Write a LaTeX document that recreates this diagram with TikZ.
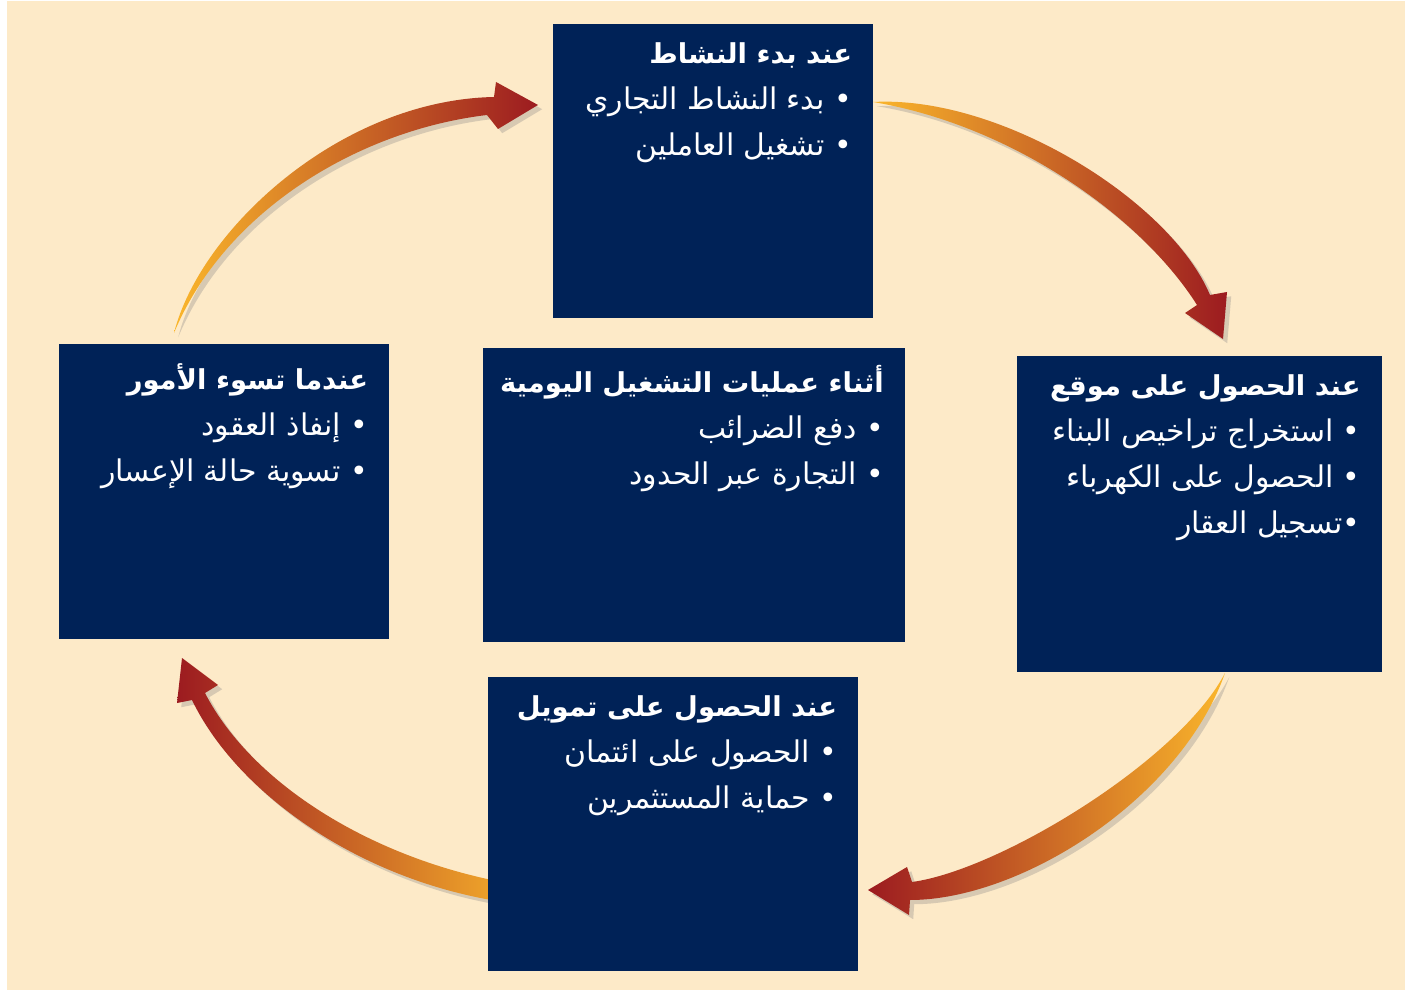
\documentclass[tikz,border=0pt]{standalone}
\usepackage{fontspec}
\newfontfamily\arabicfont[Script=Arabic]{DejaVu Sans}
\TeXXeTstate=1
\usetikzlibrary{positioning,shadows}
\definecolor{navy}{RGB}{0,34,87}
\definecolor{cream}{RGB}{253,234,200}
\definecolor{amber}{RGB}{250,182,43}
\definecolor{rust}{RGB}{214,120,38}
\definecolor{brick}{RGB}{156,27,32}
\newcommand{\arline}[1]{\beginR#1\endR}
\newcommand{\artitle}[1]{\beginR{\bfseries\fontsize{7.8}{13.1}\selectfont #1}\endR}
\tikzset{x=0.1mm, y=-0.1mm,
  stage/.style={fill=navy, inner sep=0pt},
  stagetext/.style={anchor=north east, inner sep=0pt, align=right, text=white,
    font=\arabicfont\fontsize{8.5}{13.1}\selectfont},
  curl/.style={drop shadow={opacity=0.3, shadow xshift=1.2pt, shadow yshift=-1.2pt}}}

\begin{document}
\begin{tikzpicture}
\useasboundingbox (0,0) rectangle (1405,990);
\fill[white] (0,0) rectangle (1405,990);
\fill[cream] (7,1) rectangle (1405,990);

\path[curl, left color=amber, middle color=rust, right color=brick] (174,333) .. controls (200,230) and (340,100) .. (494,97)
  -- (496,82) -- (538,105) -- (498,129) -- (487,115) .. controls (360,130) and (225,210) .. cycle;
\path[curl, left color=amber, right color=brick] (873,102) .. controls (1000,95) and (1170,200) .. (1210,295)
  -- (1227,292) -- (1223,339) -- (1185,313) -- (1197,305) .. controls (1140,215) and (1010,125) .. cycle;
\path[curl, left color=brick, right color=amber] (1225,673) .. controls (1180,800) and (1020,900) .. (910,900)
  -- (909,915) -- (868,890) -- (907,867) -- (912,882) .. controls (1000,870) and (1180,760) .. cycle;
\path[curl, left color=brick, right color=amber] (540,906) .. controls (380,895) and (240,800) .. (192,700)
  -- (177,703) -- (182,658) -- (218,685) -- (205,693) .. controls (255,790) and (390,870) .. (540,888) -- cycle;

\node (start)   [stage, minimum width=32mm, minimum height=29.4mm]   at (713,171)  {};
\node (daily)   [stage, minimum width=42.2mm, minimum height=29.4mm] at (694,495)  {};
\node (trouble) [stage, minimum width=33mm, minimum height=29.5mm]   at (224,492)  {};
\node (site)    [stage, minimum width=36.5mm, minimum height=31.6mm] at (1199,514) {};
\node (finance) [stage, minimum width=37mm, minimum height=29.4mm]   at (673,824)  {};

\node (startText) [stagetext] at ([shift={(-21,19)}]start.north east) {
  \artitle{عند بدء النشاط}\\
  \arline{• بدء النشاط التجاري}\\
  \arline{• تشغيل العاملين}};
\node (dailyText) [stagetext] at ([shift={(-21,17)}]daily.north east) {
  \artitle{أثناء عمليات التشغيل اليومية}\\
  \arline{• دفع الضرائب}\\
  \arline{• التجارة عبر الحدود}};
\node (troubleText) [stagetext] at ([shift={(-21,19)}]trouble.north east) {
  \artitle{عندما تسوء الأمور}\\
  \arline{• إنفاذ العقود}\\
  \arline{• تسوية حالة الإعسار}};
\node (siteText) [stagetext] at ([shift={(-21,19)}]site.north east) {
  \artitle{عند الحصول على موقع}\\
  \arline{• استخراج تراخيص البناء}\\
  \arline{• الحصول على الكهرباء}\\
  \arline{•تسجيل العقار}};
\node (financeText) [stagetext] at ([shift={(-21,19)}]finance.north east) {
  \artitle{عند الحصول على تمويل}\\
  \arline{• الحصول على ائتمان}\\
  \arline{• حماية المستثمرين}};
\end{tikzpicture}
\end{document}
